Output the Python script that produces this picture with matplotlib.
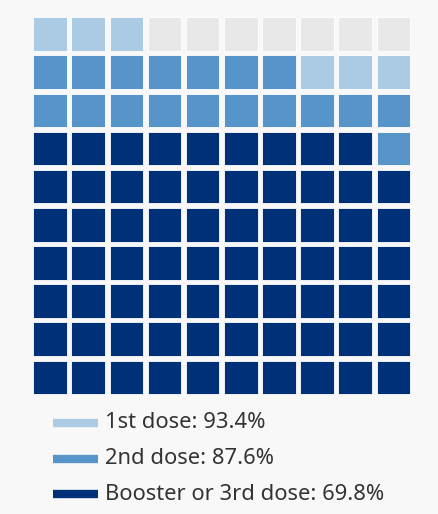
import matplotlib.pyplot as plt
import numpy as np
from matplotlib.patches import Rectangle
from matplotlib.lines import Line2D

# data: share of people (whole percent, floored) per dose
labels = ["1st dose: 93.4%", "2nd dose: 87.6%", "Booster or 3rd dose: 69.8%"]
values = [93.4, 87.6, 69.8]
colors = ["#abcbe5", "#5794ca", "#003078"]
EMPTY = "#e8e8e8"
BG = "#f8f8f8"

W, H = 438, 514
fig = plt.figure(figsize=(W / 100, H / 100), dpi=100, facecolor=BG)

# waffle axes: 10 x 10 cells, filled from bottom-left, row by row
ax = fig.add_axes([31 / W, 1 - 396.5 / H, 381.5 / W, 381.5 / H])
ax.set_xlim(0, 10)
ax.set_ylim(0, 10)
ax.axis("off")

counts = [int(np.floor(v)) for v in values]
pad = 0.06
for k in range(100):
    row, col = divmod(k, 10)
    color = EMPTY
    for c, n in zip(colors, counts):
        if k < n:
            color = c
    ax.add_patch(Rectangle((col + pad, row + pad), 1 - 2 * pad, 1 - 2 * pad,
                           facecolor=color, edgecolor="white", linewidth=0.6))

# legend drawn in pixel coordinates
lax = fig.add_axes([0, 0, 1, 1])
lax.set_xlim(0, W)
lax.set_ylim(H, 0)
lax.axis("off")
ys = [423, 459, 494]
for y, c, lab in zip(ys, colors, labels):
    lax.add_line(Line2D([53, 98], [y, y], color=c, linewidth=6,
                        solid_capstyle="butt"))
    lax.text(105, y, lab, va="center", ha="left", fontsize=15.8,
             family="Noto Sans", color="#333333")

fig.savefig("out.png", dpi=100, facecolor=BG)
